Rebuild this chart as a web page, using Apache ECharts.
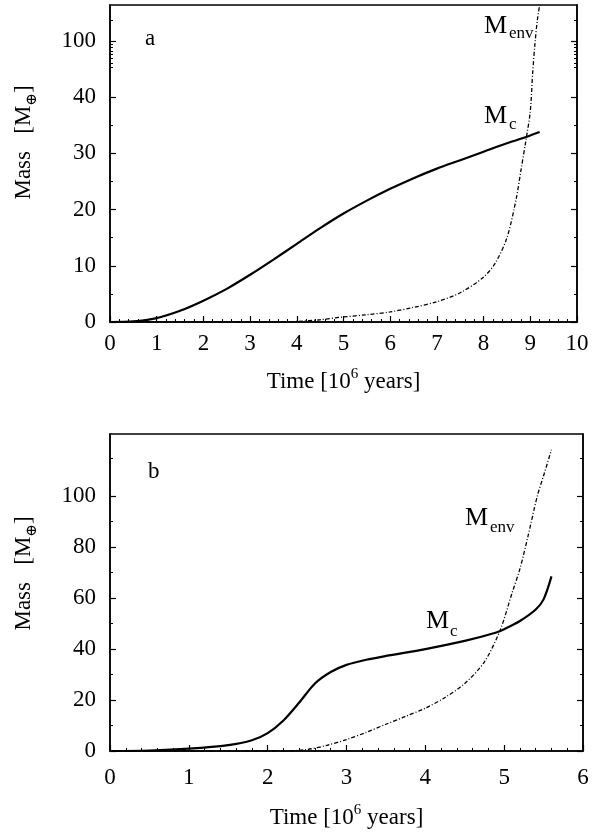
<!DOCTYPE html>
<html>
<head>
<meta charset="utf-8">
<script src="https://cdn.jsdelivr.net/npm/echarts@6/dist/echarts.min.js"></script>
<style>
html,body{margin:0;padding:0;background:#fff;}
#chart{width:594px;height:834px;}
</style>
</head>
<body>
<div id="chart"></div>
<script>
// ---------- DATA (panel a) ----------
const topCoreTime = [0, 0.5, 1, 1.5, 2, 2.5, 3, 3.5, 4, 4.5, 5, 5.5, 6, 6.5, 7, 7.5, 8, 8.5, 9, 9.2];
const topCoreMass = [0, 0.1, 0.7, 2.0, 3.8, 5.9, 8.4, 11.1, 13.9, 16.7, 19.3, 21.6, 23.7, 25.6, 27.3, 28.8, 30.3, 31.8, 33.2, 33.8];
const topEnvTime = [0, 3.5, 4, 4.5, 5, 5.5, 6, 6.5, 7, 7.5, 8, 8.25, 8.5, 8.7, 8.8, 8.9, 9.0, 9.05, 9.1, 9.15, 9.2];
const topEnvMass = [0, 0, 0.1, 0.4, 0.9, 1.3, 1.8, 2.6, 3.6, 5.2, 8.0, 10.5, 15, 22, 27, 32, 37.5, 59, 96, 140, 180];
const topXRange = [0, 10];
const topYMajor = [0, 10, 20, 30, 40, 100];
const topYMinor = [5, 15, 25, 35, 65, 70, 75, 80, 85, 90, 95, 140];
const topYMax = 180;

// ---------- DATA (panel b) ----------
const botCoreTime = [0, 0.5, 1, 1.5, 1.8, 2, 2.2, 2.4, 2.6, 2.8, 3.0, 3.25, 3.5, 4, 4.5, 4.9, 5.0, 5.2, 5.4, 5.5, 5.6];
const botCoreMass = [0, 0.2, 0.9, 2.3, 4.2, 7.0, 12, 19, 26.5, 31, 33.8, 35.8, 37.3, 40.0, 43.2, 46.5, 47.8, 51, 55.5, 59.5, 68.5];
const botEnvTime = [0, 2.2, 2.5, 2.75, 3, 3.25, 3.5, 3.75, 4, 4.25, 4.5, 4.75, 4.95, 5.1, 5.2, 5.3, 5.42, 5.5, 5.6];
const botEnvMass = [0, 0, 0.6, 2.2, 4.5, 7.3, 10.5, 13.6, 16.8, 21, 26.5, 35, 47.5, 62, 71.5, 84, 100, 146, 236];
const botXRange = [0, 6];
const botYMajor = [0, 20, 40, 60, 80, 100];
const botYMinor = [10, 30, 50, 70, 90, 200];
const botYMax = 316;

// ---------- broken (compressed) y scales ----------
function topScale(v) { return v <= 40 ? v : 40 + 10 * Math.log10(v / 40) / Math.log10(2.5); }
function botScale(v) { return v <= 100 ? v : 100 + 48.8 * Math.log10(v / 100); }

const FONT = 'Liberation Serif';
const FS = 23;

function pairs(ts, vs, f) { return ts.map((t, i) => [t, f(vs[i])]); }

function makeY(gridIndex, major, minor, scale, maxV, position, withLabels, namePad) {
  const labelMap = {};
  major.forEach(v => { labelMap[scale(v).toFixed(4)] = String(v); });
  const base = {
    type: 'value', gridIndex, position, min: 0, max: scale(maxV),
    splitLine: {show: false}, axisLine: {show: true, lineStyle: {color: '#000', width: 1.5}}
  };
  const majorAxis = Object.assign({}, base, {
    axisTick: {show: true, inside: true, length: 6, lineStyle: {color: '#000', width: 1.2},
      customValues: major.map(scale)},
    axisLabel: {show: withLabels, customValues: major.map(scale), margin: 14,
      color: '#000', fontFamily: FONT, fontSize: FS,
      formatter: (val) => labelMap[Number(val).toFixed(4)] || ''}
  });
  if (withLabels) {
    majorAxis.name = 'Mass   [M{s|⊕}]';
    majorAxis.nameLocation = 'middle';
    majorAxis.nameGap = 70;
    majorAxis.nameTextStyle = {color: '#000', fontFamily: FONT, fontSize: FS, lineHeight: 32,
      padding: [0, 0, 0, namePad],
      rich: {s: {fontSize: 15, lineHeight: 15, verticalAlign: 'bottom', fontFamily: 'DejaVu Serif', color: '#000'}}};
  }
  const minorAxis = Object.assign({}, base, {
    axisLine: {show: false},
    axisTick: {show: true, inside: true, length: 3, lineStyle: {color: '#000', width: 1},
      customValues: minor.map(scale)},
    axisLabel: {show: false}
  });
  return [majorAxis, minorAxis];
}

function makeX(gridIndex, range, margin, gap) {
  return {
    type: 'value', gridIndex, min: range[0], max: range[1], interval: 1,
    splitLine: {show: false},
    axisLine: {show: true, onZero: false, lineStyle: {color: '#000', width: 1.5}},
    axisTick: {show: true, inside: true, length: 6, lineStyle: {color: '#000', width: 1.2}},
    minorTick: {show: true, splitNumber: 5, length: 3, lineStyle: {color: '#000', width: 1}},
    axisLabel: {color: '#000', fontFamily: FONT, fontSize: FS, margin: margin},
    name: 'Time [10{p|6} years]', nameLocation: 'middle', nameGap: gap,
    nameTextStyle: {color: '#000', fontFamily: FONT, fontSize: FS, lineHeight: 30,
      rich: {p: {fontSize: 15, lineHeight: 15, verticalAlign: 'top', fontFamily: FONT, color: '#000'}}}
  };
}

const yAxes = [].concat(
  makeY(0, topYMajor, topYMinor, topScale, topYMax, 'left', true, 42),
  makeY(0, topYMajor, topYMinor, topScale, topYMax, 'right', false, 0),
  makeY(1, botYMajor, botYMinor, botScale, botYMax, 'left', true, 38),
  makeY(1, botYMajor, botYMinor, botScale, botYMax, 'right', false, 0)
);

function lineSeries(xi, yi, data, solid) {
  return {
    type: 'line', xAxisIndex: xi, yAxisIndex: yi, data,
    showSymbol: false, smooth: 0.3, clip: true, silent: true,
    lineStyle: solid ? {color: '#000', width: 2.2} : {color: '#000', width: 1.3, type: [4, 2, 1, 2]}
  };
}

function txt(x, y, s, fs) {
  return {type: 'text', x, y, silent: true,
    style: {text: s, fill: '#000', font: fs + 'px "' + FONT + '"', textAlign: 'left', textVerticalAlign: 'middle'}};
}
function bl(baseline, fs) { return baseline - 0.3375 * fs; }

const MF = 26, SF = 17;

const option = {
  animation: false,
  backgroundColor: '#fff',
  grid: [
    {left: 107, right: 17, top: 5, height: 317, show: true, borderColor: '#000', borderWidth: 1.5, backgroundColor: 'transparent'},
    {left: 108, right: 11, top: 434, height: 321, show: true, borderColor: '#000', borderWidth: 1.5, backgroundColor: 'transparent'}
  ],
  xAxis: [makeX(0, topXRange, 10, 45), makeX(1, botXRange, 15, 52)],
  yAxis: yAxes,
  series: [
    lineSeries(0, 0, pairs(topCoreTime, topCoreMass, topScale), true),
    lineSeries(0, 0, pairs(topEnvTime, topEnvMass, topScale), false),
    lineSeries(1, 4, pairs(botCoreTime, botCoreMass, botScale), true),
    lineSeries(1, 4, pairs(botEnvTime, botEnvMass, botScale), false)
  ],
  graphic: [
    txt(145, bl(47, FS), 'a', FS),
    txt(148, bl(480, FS), 'b', FS),
    txt(484, bl(35, MF), 'M', MF), txt(509, bl(39, SF), 'env', SF),
    txt(484, bl(125, MF), 'M', MF), txt(509, bl(130, SF), 'c', SF),
    txt(465, bl(527, MF), 'M', MF), txt(490, bl(533, SF), 'env', SF),
    txt(426, bl(630, MF), 'M', MF), txt(450, bl(637, SF), 'c', SF)
  ]
};

const chart = echarts.init(document.getElementById('chart'), null, {renderer: 'canvas'});
chart.setOption(option);
</script>
</body>
</html>
